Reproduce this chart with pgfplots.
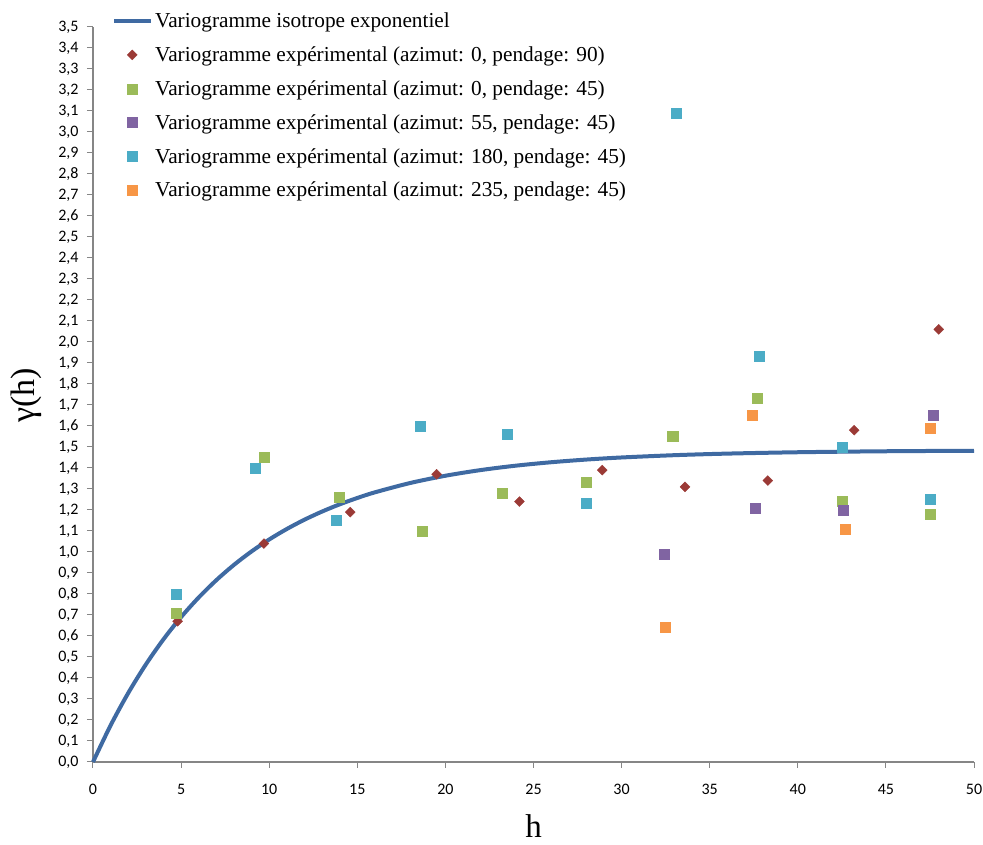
\documentclass[border=0pt]{standalone}
\usepackage{fontspec}
\setmainfont{Liberation Serif}
\newfontfamily\tickfont{Carlito}
\usepackage{pgfplots}
\pgfplotsset{compat=1.18}
\pgfplotsset{longline/.style={legend image code/.code={\draw[##1] (-9.5pt,0pt) -- (27.5pt,0pt);}}}
\definecolor{curveblue}{HTML}{3F6AA2}
\definecolor{mred}{HTML}{9B3A36}
\definecolor{mgreen}{HTML}{9BBB59}
\definecolor{mpurple}{HTML}{8064A2}
\definecolor{mcyan}{HTML}{4BACC6}
\definecolor{morange}{HTML}{F79646}
\definecolor{axisgray}{HTML}{868686}
\begin{document}
\begin{tikzpicture}
\useasboundingbox (-93pt,-83pt) rectangle (890pt,762pt);
\begin{axis}[
  scale only axis, width=881pt, height=735pt,
  xmin=0, xmax=50, ymin=0, ymax=3.5,
  axis x line*=bottom, axis y line*=left,
  axis line style={draw=axisgray, line width=1.2pt},
  tick style={draw=axisgray, line width=1pt},
  tick align=outside, major tick length=6pt,
  xtick={0,5,10,15,20,25,30,35,40,45,50},
  ytick={0,0.1,0.2,0.3,0.4,0.5,0.6,0.7,0.8,0.9,1.0,1.1,1.2,1.3,1.4,1.5,1.6,1.7,1.8,1.9,2.0,2.1,2.2,2.3,2.4,2.5,2.6,2.7,2.8,2.9,3.0,3.1,3.2,3.3,3.4,3.5},
  /pgf/number format/assume math mode=true,
  ticklabel style={font=\tickfont\fontsize{16}{18}\selectfont},
  yticklabel style={/pgf/number format/.cd, fixed, fixed zerofill, precision=1, use comma, /tikz/.cd, xshift=-5pt},
  xticklabel style={yshift=-13pt},
  xlabel={h}, ylabel={γ(h)},
  xlabel style={font=\fontsize{33}{36}\selectfont, at={(axis description cs:0.5,-0.087)}, anchor=center},
  ylabel style={font=\fontsize{34}{38}\selectfont, at={(axis description cs:-0.076,0.499)}, anchor=center},
  legend style={at={(axis description cs:0.0216,1.022)}, anchor=north west, draw=none, fill=none,
    font=\fontsize{21.3}{24}\selectfont, row sep=13.5pt, inner sep=0pt},
  legend cell align=left,
  clip=false,
]
\addplot[curveblue, line width=4pt, smooth, no markers, longline]
  coordinates {(0,0) (1,0.1745) (2,0.3285) (3,0.4644) (4,0.5843) (5,0.6901) (6,0.7835) (7,0.8659) (8,0.9387) (9,1.0028) (10,1.0595) (11,1.1096) (12,1.1537) (13,1.1926) (14,1.2269) (15,1.2572) (16,1.2841) (18,1.3285) (20,1.3631) (22,1.3901) (24,1.4111) (26,1.4274) (28,1.4402) (30,1.4501) (33,1.4610) (36,1.4685) (40,1.4750) (45,1.4797) (50,1.4821)};
\addlegendentry{Variogramme isotrope exponentiel}
\addplot[only marks, mark=square*, mark size=3.5pt, mark options={rotate=45, fill=mred, draw=mred}]
  coordinates {(4.8,0.67) (9.7,1.04) (14.6,1.19) (19.5,1.37) (24.2,1.24) (28.9,1.39) (33.6,1.31) (38.3,1.34) (43.2,1.58) (48.0,2.06)};
\addlegendentry{Variogramme expérimental (azimut: 0, pendage: 90)}
\addplot[only marks, mark=square*, mark size=5pt, mark options={fill=mgreen, draw=mgreen}]
  coordinates {(4.75,0.71) (9.7,1.45) (14.0,1.26) (18.7,1.10) (23.2,1.28) (28.0,1.33) (32.9,1.55) (37.7,1.73) (42.5,1.24) (47.5,1.18)};
\addlegendentry{Variogramme expérimental (azimut: 0, pendage: 45)}
\addplot[only marks, mark=square*, mark size=5pt, mark options={fill=mpurple, draw=mpurple}]
  coordinates {(32.4,0.99) (37.6,1.21) (42.6,1.20) (47.7,1.65)};
\addlegendentry{Variogramme expérimental (azimut: 55, pendage: 45)}
\addplot[only marks, mark=square*, mark size=5pt, mark options={fill=mcyan, draw=mcyan}]
  coordinates {(4.75,0.80) (9.2,1.40) (13.8,1.15) (18.55,1.60) (23.5,1.56) (28.0,1.23) (33.1,3.09) (37.8,1.93) (42.5,1.50) (47.5,1.25)};
\addlegendentry{Variogramme expérimental (azimut: 180, pendage: 45)}
\addplot[only marks, mark=square*, mark size=5pt, mark options={fill=morange, draw=morange}]
  coordinates {(32.5,0.64) (37.4,1.65) (42.7,1.11) (47.5,1.59)};
\addlegendentry{Variogramme expérimental (azimut: 235, pendage: 45)}
\end{axis}
\end{tikzpicture}
\end{document}
